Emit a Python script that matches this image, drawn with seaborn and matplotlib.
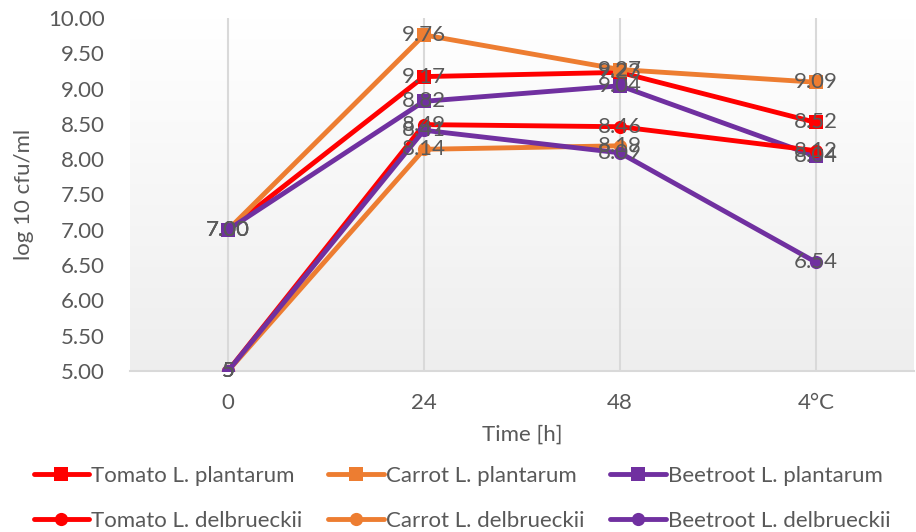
import numpy as np
import matplotlib
matplotlib.use("Agg")
import matplotlib.pyplot as plt
import seaborn as sns

# Sampling times (last point = cold storage at 4 °C)
times = ["0", "24", "48", "4°C"]

# Viable counts, log10 cfu/ml
tomato_plantarum = [7.00, 9.17, 9.23, 8.52]
carrot_plantarum = [7.00, 9.76, 9.27, 9.09]
beetroot_plantarum = [7.00, 8.82, 9.04, 8.04]
tomato_delbrueckii = [5, 8.49, 8.46, 8.12]
carrot_delbrueckii = [5, 8.14, 8.19, None]
beetroot_delbrueckii = [5, 8.41, 8.09, 6.54]

series_names = [
    "Tomato L. plantarum", "Carrot L. plantarum", "Beetroot L. plantarum",
    "Tomato L. delbrueckii", "Carrot L. delbrueckii", "Beetroot L. delbrueckii",
]
series_values = [
    tomato_plantarum, carrot_plantarum, beetroot_plantarum,
    tomato_delbrueckii, carrot_delbrueckii, beetroot_delbrueckii,
]
series_colors = ["#FF0000", "#ED7D31", "#7030A0"] * 2
series_markers = ["s"] * 3 + ["o"] * 3

y_ticks = [5.0, 5.5, 6.0, 6.5, 7.0, 7.5, 8.0, 8.5, 9.0, 9.5, 10.0]

sns.set_theme(style="white")
plt.rcParams["font.family"] = ["Lato", "DejaVu Sans"]
TXT = "#595959"
FS = 16

fig = plt.figure(figsize=(9.16, 5.32), dpi=100)
ax = fig.add_axes([130 / 916, 1 - 371 / 532, 784 / 916, 353 / 532])

# soft vertical gradient behind the plot area
grad = np.linspace(1.0, 0.0, 256).reshape(-1, 1)
ax.imshow(grad, extent=[0, 1, 0, 1], transform=ax.transAxes, aspect="auto",
          cmap=matplotlib.colors.LinearSegmentedColormap.from_list(
              "bg", ["#EEEEEE", "#FFFFFF"]), zorder=0, interpolation="bilinear")

for name, vals, col, mk in zip(series_names, series_values, series_colors, series_markers):
    y = [np.nan if v is None else v for v in vals]
    sns.lineplot(x=times, y=y, ax=ax, color=col, marker=mk, markersize=9.5,
                 markeredgewidth=0, linewidth=3.5, label=name, sort=False, zorder=3)

# data labels centred on each point
for vals in series_values:
    for i, v in enumerate(vals):
        if v is None:
            continue
        txt = str(v) if isinstance(v, int) else f"{v:.2f}"
        ax.text(i, v, txt, ha="center", va="center", fontsize=FS, color=TXT, zorder=5)

ax.set_xlim(-0.5, len(times) - 0.5)
ax.set_ylim(min(y_ticks), max(y_ticks))
ax.set_yticks(y_ticks)
ax.set_yticklabels([f"{t:.2f}" for t in y_ticks])
ax.set_xticks(range(len(times)))
ax.set_xticklabels(times)
ax.tick_params(axis="both", length=0, labelsize=FS, labelcolor=TXT)
ax.tick_params(axis="y", pad=18)
ax.tick_params(axis="x", pad=16)

ax.grid(False)
for i in range(len(times)):
    ax.axvline(i, color="#D9D9D9", linewidth=1.5, zorder=1)
for s in ["top", "right", "left"]:
    ax.spines[s].set_visible(False)
ax.spines["bottom"].set_color("#D9D9D9")
ax.spines["bottom"].set_linewidth(1.5)

ax.set_xlabel("Time [h]", fontsize=FS, color=TXT, labelpad=8)
ax.set_ylabel("log 10 cfu/ml", fontsize=FS, color=TXT, labelpad=10)

# legend: plantarum on the first row, delbrueckii on the second
handles, labels = ax.get_legend_handles_labels()
order = [0, 3, 1, 4, 2, 5]
ax.legend([handles[k] for k in order], [labels[k] for k in order], ncol=3,
          loc="upper center", bbox_to_anchor=(0.4235, -0.212), frameon=False,
          fontsize=FS, labelcolor=TXT, handlelength=2.5, handletextpad=0.1,
          columnspacing=1.15, labelspacing=1.12, markerscale=1.0)

fig.savefig("out.png", dpi=100)
